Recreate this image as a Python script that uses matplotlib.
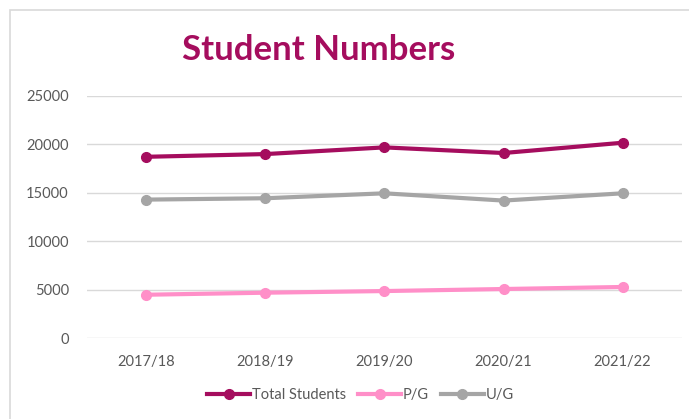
import numpy as np
import matplotlib.pyplot as plt
from matplotlib.patches import Rectangle

years = ['2017/18', '2018/19', '2019/20', '2020/21', '2021/22']
total = [18720, 19000, 19690, 19110, 20170]
pg = [4480, 4690, 4860, 5070, 5280]
ug = [14300, 14440, 14950, 14200, 14950]

plt.rcParams['font.family'] = ['Lato', 'DejaVu Sans']

fig = plt.figure(figsize=(6.89, 4.19), dpi=100)
ax = fig.add_axes([0.126, 0.193, 0.864, 0.578])

# chart area border (runs off the right/bottom of the picture)
fig.patches.append(Rectangle((10 / 689, -0.1), 1.2, 1 - 10 / 419 + 0.1,
                             transform=fig.transFigure, fill=False,
                             edgecolor='#D9D9D9', linewidth=1.2))

x = np.arange(len(years))
ax.plot(x, total, color='#A50D5E', lw=3, marker='o', ms=7, label='Total Students', zorder=4)
ax.plot(x, pg, color='#FF8FC8', lw=3, marker='o', ms=7, label='P/G', zorder=3)
ax.plot(x, ug, color='#A5A5A5', lw=3, marker='o', ms=7, label='U/G', zorder=3)

ax.set_xlim(-0.5, len(years) - 0.5)
ax.set_ylim(0, 25000)
ax.set_yticks(np.arange(0, 25001, 5000))
ax.set_xticks(x)
ax.set_xticklabels(years)
ax.grid(axis='y', color='#D9D9D9', lw=1)
ax.set_axisbelow(True)
for s in ax.spines.values():
    s.set_visible(False)
ax.tick_params(length=0, labelsize=10.5, colors='#595959')
ax.tick_params(axis='y', pad=13)
ax.tick_params(axis='x', pad=12)

fig.text(0.462, 0.88, 'Student Numbers', ha='center', va='center',
         fontsize=25, fontweight='bold', color='#A50D5E')

fig.legend(loc='center', bbox_to_anchor=(0.523, 0.057), ncol=3, frameon=False,
           fontsize=10.5, handlelength=3, handletextpad=0.1, columnspacing=0.8,
           labelcolor='#595959')

fig.savefig('out.png', dpi=100, facecolor='white')
